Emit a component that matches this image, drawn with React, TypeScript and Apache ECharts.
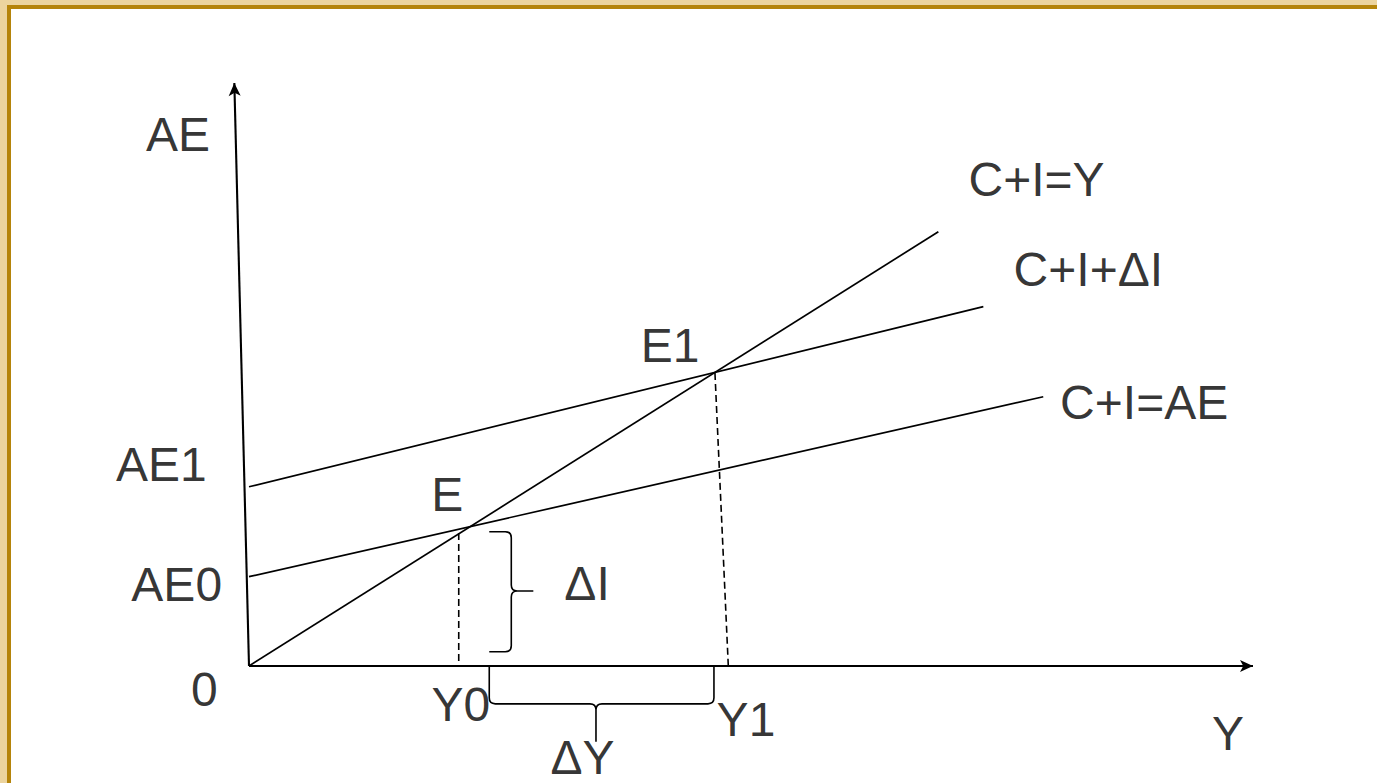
import React, { useEffect, useRef } from "react";
import * as echarts from "echarts";

// ---- Data (in diagram units: horizontal axis 0..100, vertical axis 0..100) ----
const incomeLine: number[][] = [[0, 0], [68.66, 74.49]]; // C+I=Y (45° line)
const aeLine: number[][] = [[0, 15.32], [79.11, 46.19]]; // C+I=AE
const aeShiftLine: number[][] = [[0, 30.75], [73.14, 61.63]]; // C+I+ΔI
const y0Drop: number[][] = [[20.89, 22.81], [20.89, 0]];
const y1Drop: number[][] = [[46.41, 50.26], [47.74, 0]];
const yAxisLine: number[][] = [[0, 0], [-1.46, 100]];
const xAxisLine: number[][] = [[0, 0], [100, 0]];
// brace: startX, startY, endX, endY, tipX, tipY
const braces: number[][] = [
  [23.93, 23.04, 23.93, 2.45, 28.32, 12.86], // ΔI
  [23.93, 0, 46.31, 0, 34.56, -12.98], // ΔY
];
const labelTexts: string[] = ["AE", "C+I=Y", "C+I+ΔI", "C+I=AE", "E1", "E", "AE1", "AE0", "0", "Y0", "Y1", "ΔY", "Y", "ΔI"];
const labelX: number[] = [-7.07, 78.44, 83.6, 89.16, 41.94, 19.75, -8.72, -7.2, -4.44, 21.1, 49.5, 33.22, 97.5, 33.67];
const labelY: number[] = [91.2, 83.5, 68.06, 45.2, 55.06, 29.5, 34.6, 14.03, -4.1, -6.55, -9.13, -15.75, -11.55, 14.12];

// ---- Layout ----
const W = 1377;
const H = 783;
const ORIGIN_X = 249;
const ORIGIN_Y = 666;
const PX_X = 10.04;
const PX_Y = 5.83;
const FONT = "'Liberation Sans', Arial, Helvetica, sans-serif";

function lineSeries(data: number[][], dashed = false, width = 1.7) {
  return {
    type: "line",
    data,
    showSymbol: false,
    symbol: "none",
    clip: false,
    silent: true,
    animation: false,
    lineStyle: { color: "#000", width, type: dashed ? [7, 4] : "solid" },
  };
}

export default function App() {
  const ref = useRef<HTMLDivElement>(null);
  useEffect(() => {
    if (!ref.current) return;
    const chart = echarts.init(ref.current, undefined, { renderer: "svg" });
    const option: any = {
      animation: false,
      backgroundColor: "#fff",
      grid: { left: 0, right: 0, top: 0, bottom: 0, containLabel: false },
      xAxis: {
        type: "value",
        min: -ORIGIN_X / PX_X,
        max: (W - ORIGIN_X) / PX_X,
        show: false,
      },
      yAxis: {
        type: "value",
        min: -(H - ORIGIN_Y) / PX_Y,
        max: ORIGIN_Y / PX_Y,
        show: false,
      },
      graphic: [
        { type: "rect", shape: { x: 0, y: 0, width: W, height: 5 }, style: { fill: "#ECD49E" }, silent: true },
        { type: "rect", shape: { x: 0, y: 0, width: 7, height: H }, style: { fill: "#ECD49E" }, silent: true },
        { type: "rect", shape: { x: 7, y: 5, width: W - 7, height: 4 }, style: { fill: "#B5840A" }, silent: true },
        { type: "rect", shape: { x: 7, y: 5, width: 4, height: H - 5 }, style: { fill: "#B5840A" }, silent: true },
      ],
      series: [
        lineSeries(incomeLine),
        lineSeries(aeLine),
        lineSeries(aeShiftLine),
        lineSeries(y0Drop, true, 1.6),
        lineSeries(y1Drop, true, 1.6),
        {
          type: "line",
          data: [],
          clip: false,
          silent: true,
          markLine: {
            silent: true,
            animation: false,
            symbol: ["none", "arrow"],
            symbolSize: [9, 13],
            label: { show: false },
            emphasis: { disabled: true },
            lineStyle: { color: "#000", width: 2.1, type: "solid" },
            data: [
              [{ coord: yAxisLine[0] }, { coord: yAxisLine[1] }],
              [{ coord: xAxisLine[0] }, { coord: xAxisLine[1] }],
            ],
          },
        },
        {
          type: "custom",
          data: braces,
          silent: true,
          clip: false,
          renderItem: (params: any, api: any) => {
            const s = api.coord([api.value(0), api.value(1)]);
            const e = api.coord([api.value(2), api.value(3)]);
            const t = api.coord([api.value(4), api.value(5)]);
            const dx = e[0] - s[0];
            const dy = e[1] - s[1];
            const L = Math.hypot(dx, dy);
            const u = [dx / L, dy / L];
            let n = [-u[1], u[0]];
            const tv = [t[0] - s[0], t[1] - s[1]];
            if (tv[0] * n[0] + tv[1] * n[1] < 0) n = [-n[0], -n[1]];
            const tipB = tv[0] * n[0] + tv[1] * n[1];
            const tipA = tv[0] * u[0] + tv[1] * u[1];
            const d = tipB * 0.5;
            const r = 6;
            const P = (a: number, b: number) =>
              `${(s[0] + u[0] * a + n[0] * b).toFixed(2)} ${(s[1] + u[1] * a + n[1] * b).toFixed(2)}`;
            const path =
              `M ${P(0, 0)} L ${P(0, d - r)} Q ${P(0, d)} ${P(r, d)} ` +
              `L ${P(tipA - r, d)} Q ${P(tipA, d)} ${P(tipA, d + r)} L ${P(tipA, tipB)} ` +
              `M ${P(tipA, d + r)} Q ${P(tipA, d)} ${P(tipA + r, d)} ` +
              `L ${P(L - r, d)} Q ${P(L, d)} ${P(L, d - r)} L ${P(L, 0)}`;
            return {
              type: "path",
              shape: { pathData: path },
              style: { fill: "none", stroke: "#000", lineWidth: 1.6 },
            };
          },
        },
        {
          type: "scatter",
          silent: true,
          clip: false,
          symbolSize: 1,
          itemStyle: { color: "rgba(0,0,0,0)" },
          data: labelTexts.map((name, i) => ({ name, value: [labelX[i], labelY[i]] })),
          label: {
            show: true,
            position: "inside",
            formatter: "{b}",
            color: "#000",
            fontSize: 48,
            fontFamily: FONT,
            align: "center",
            verticalAlign: "middle",
          },
        },
      ],
    };
    chart.setOption(option);
    return () => chart.dispose();
  }, []);
  return (
    <div
      ref={ref}
      style={{ position: "fixed", left: 0, top: 0, width: W, height: H, background: "#fff" }}
    />
  );
}
